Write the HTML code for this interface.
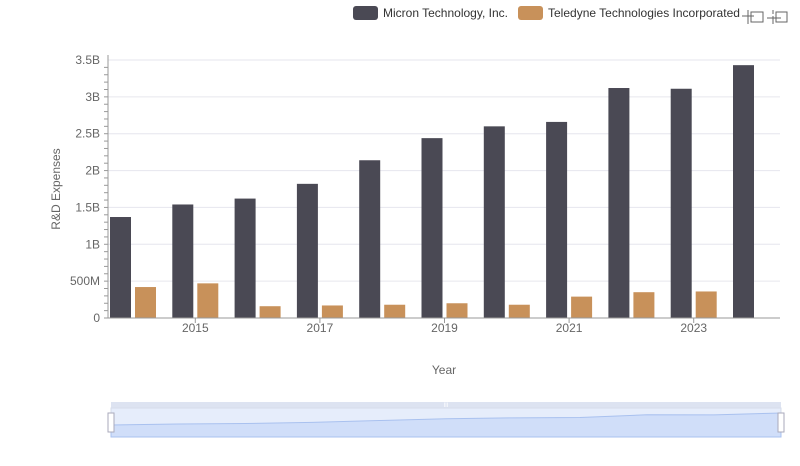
<!DOCTYPE html>
<html><head><meta charset="utf-8"><style>
body{margin:0;background:#fff;font-family:"Liberation Sans",sans-serif;}
svg text{font-family:"Liberation Sans",sans-serif;}
</style></head><body>
<svg id="c" width="800" height="461">
<g id="grid"></g><g id="bars"></g><g id="axes"></g>
<g>
<g><rect x="353" y="6" width="25" height="14" rx="3" fill="#4a4954"/><text x="383" y="17" font-size="12" fill="#333">Micron Technology, Inc.</text></g>
<g><rect x="518" y="6" width="25" height="14" rx="3" fill="#c8915a"/><text x="548" y="17" font-size="12" fill="#333">Teledyne Technologies Incorporated</text></g>
</g>
<g stroke="#666" fill="none"><path d="M748 10v14M742 16h12"/><rect x="751" y="12" width="12" height="10"/><path d="M773 10v4M773 16v8M767 18h14"/><rect x="776" y="12" width="11" height="10"/></g>
<text x="60" y="189" font-size="12" fill="#666" transform="rotate(-90 60 189)" text-anchor="middle">R&amp;D Expenses</text>
<text x="444" y="374" font-size="12" fill="#666" text-anchor="middle">Year</text>
<g>
<rect x="111" y="402" width="670" height="6" fill="#dde3f1"/>
<rect x="111" y="408" width="670" height="29" fill="#e6edfb" stroke="#d6dcea"/>
<path id="zarea" fill="#d0def9" stroke="#a9c1ef"/>
<rect x="108" y="413" width="6" height="19" fill="#fff" stroke="#aab"/>
<rect x="778" y="413" width="6" height="19" fill="#fff" stroke="#aab"/>
<text x="446" y="407" font-size="6" fill="#fff" text-anchor="middle">III</text>
</g>
</svg>
<script>
const years=["2014","2015","2016","2017","2018","2019","2020","2021","2022","2023","2024"];
const micron=[1.37,1.54,1.62,1.82,2.14,2.44,2.60,2.66,3.12,3.11,3.43];
const teledyne=[0.42,0.47,0.16,0.17,0.18,0.20,0.18,0.29,0.35,0.36,null];
const yTicks=[0,0.5,1,1.5,2,2.5,3,3.5];
const yLabels=["0","500M","1B","1.5B","2B","2.5B","3B","3.5B"];
const ns="http://www.w3.org/2000/svg";
const y=v=>318-v*(258/3.5);
const x=i=>110+i*62.3;
function mk(p,t,a){const e=document.createElementNS(ns,t);for(const k in a)e.setAttribute(k,a[k]);document.getElementById(p)?document.getElementById(p).appendChild(e):p.appendChild(e);return e;}
yTicks.forEach((v,i)=>{
 const l=mk("grid","line",{x1:108,x2:780,y1:y(v),y2:y(v),stroke:"#e6e6ee"});
 
 
 const t=mk("axes","text",{x:100,y:y(v)+4,"font-size":12,fill:"#666","text-anchor":"end"});t.textContent=yLabels[i];
 
 
});
for(let v=0;v<3.5;v+=0.1){mk("axes","line",{x1:104,x2:108,y1:y(v),y2:y(v),stroke:"#999"});}
mk("axes","line",{x1:108,x2:108,y1:55,y2:318,stroke:"#999"});
mk("axes","line",{x1:108,x2:780,y1:318,y2:318,stroke:"#999"});
years.forEach((yr,i)=>{
 const b=mk("bars","rect",{x:x(i),y:y(micron[i]),width:21,height:318-y(micron[i]),fill:"#4a4954"});
 
 
 if(teledyne[i]!=null){const c=mk("bars","rect",{x:x(i)+25,y:y(teledyne[i]),width:21,height:318-y(teledyne[i]),fill:"#c8915a"});
 
 }
 if(i%2==1){const t=mk("axes","text",{x:x(i)+23,y:332,"font-size":12,fill:"#666","text-anchor":"middle"});t.textContent=yr;
 
 
 mk("axes","line",{x1:x(i)+23,x2:x(i)+23,y1:318,y2:323,stroke:"#999"});}
});
let d="M111 437";
const mx=Math.max(...micron);
micron.forEach((v,i)=>{d+=" L"+(111+i*67)+" "+(433-v/mx*20);});
d+=" L781 437Z";
document.getElementById("zarea").setAttribute("d",d);
</script>
</body></html>
